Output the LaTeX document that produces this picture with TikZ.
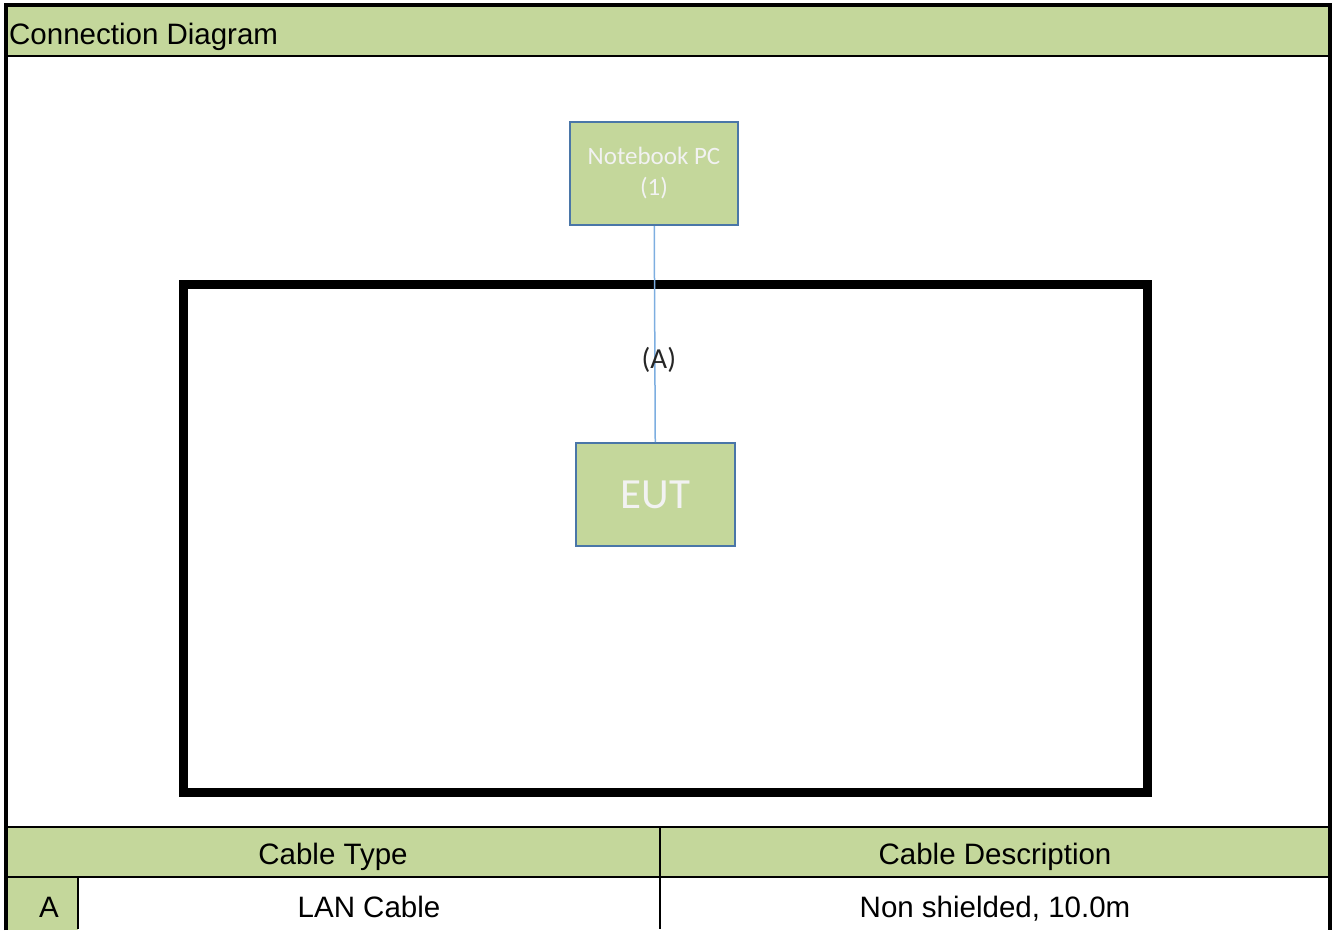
\documentclass[tikz,border=0pt]{standalone}
\usepackage{fontspec}
\setmainfont{Liberation Sans}
\newfontfamily\boxfont{Carlito}
\usetikzlibrary{positioning}
\definecolor{hdrgreen}{HTML}{C4D79B}
\definecolor{boxblue}{HTML}{4A76A8}
\definecolor{cableblue}{HTML}{7DAEE0}

\begin{document}
\begin{tikzpicture}
[x=1pt, y=-1pt, font=\fontsize{29.5}{34}\selectfont,
% STYLES
% The frame style is used for the outer border, the rule style for the table lines
frame/.style={draw=black, line width=4pt},
rule/.style={draw=black, line width=2pt},
% The device style is used to draw the equipment boxes
device/.style={rectangle, draw=boxblue, fill=hdrgreen, line width=2pt, text=white!95!black, align=center, inner sep=2pt},
% The cell style is used for the texts of the table
cell/.style={anchor=base, inner sep=0pt}]
\useasboundingbox (0,0) rectangle (1337,930);

% Draw the header band
\fill[hdrgreen] (6,5) rectangle (1330,56);
\node [cell, anchor=base west] (title) at (9,44) {Connection Diagram};
\draw[rule] (6,56) -- (1330,56);

% Draw the test area
\draw[line width=9pt] (183,284) rectangle (1147,792);

% Draw the equipment
\node [device, minimum width=168pt, minimum height=103pt, font=\boxfont\fontsize{25}{31}\selectfont] (pc) at (654,173.5) {Notebook PC\\(1)};
\node [device, minimum width=159pt, minimum height=103pt, below=216pt of pc, xshift=1.5pt, font=\boxfont\fontsize{43}{46}\selectfont] (eut) {EUT};

% Draw the cable
\draw[cableblue, line width=1.5pt] (pc) -- (eut)
  node[pos=0.62, xshift=4pt, text=black!85, font=\boxfont\fontsize{29}{32}\selectfont] (cableA) {(A)};

% Draw the table
\fill[hdrgreen] (6,827) rectangle (1330,877);
\fill[hdrgreen] (6,877) rectangle (78,930);
\draw[rule] (6,827) -- (1330,827);
\draw[rule] (6,877) -- (1330,877);
\draw[rule] (660,827) -- (660,929);
\draw[rule] (78,877) -- (78,929);

\node [cell] (typehead) at (333,864) {Cable Type};
\node [cell] (deschead) at (995,864) {Cable Description};
\node [cell] (idA) at (49,917) {A};
\node [cell] (typeA) at (369,917) {LAN Cable};
\node [cell] (descA) at (995,917) {Non shielded, 10.0m};

% Draw the outer border
\draw[frame] (6,930) -- (6,5) -- (1330,5) -- (1330,930);

\end{tikzpicture}
\end{document}
